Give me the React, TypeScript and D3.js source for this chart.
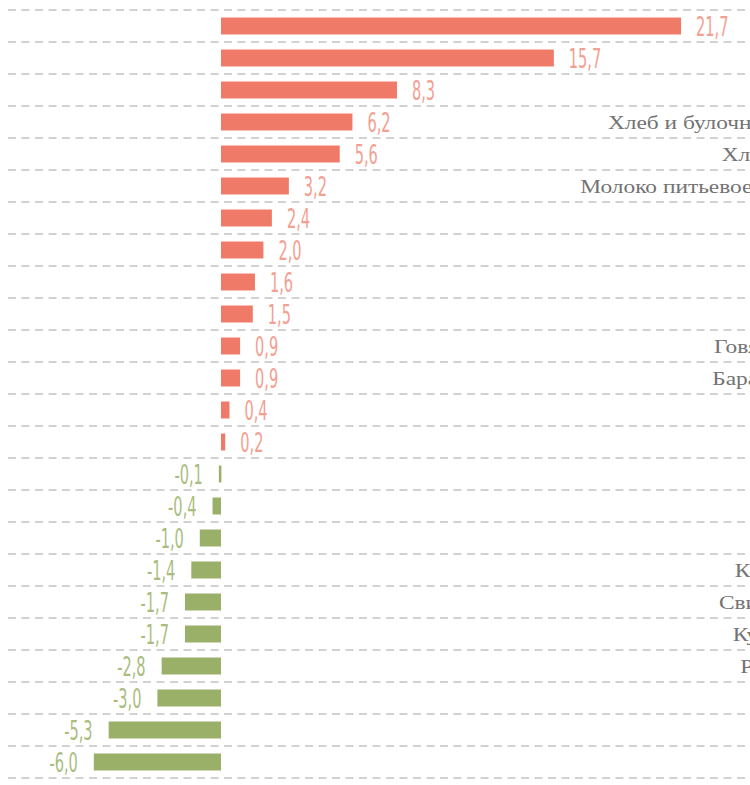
import React from "react";
import * as d3 from "d3";

const categories = [
  "Сахар-песок",
  "Лук репчатый",
  "Соль поваренная пищевая",
  "Хлеб и булочные изделия из пшеничной муки",
  "Хлеб ржаной и ржано-пшеничный",
  "Молоко питьевое цельное пастеризованное 2,5%",
  "Масло подсолнечное",
  "Мука пшеничная",
  "Макаронные изделия",
  "Рис шлифованный",
  "Говядина (кроме бескостного мяса)",
  "Баранина (кроме бескостного мяса)",
  "Чай черный байховый",
  "Масло сливочное",
  "Пшено",
  "Яйца куриные",
  "Картофель",
  "Колбаса вареная (высшего сорта)",
  "Свинина (кроме бескостного мяса)",
  "Куры (кроме куриных окорочков)",
  "Рыба мороженая (кроме форели)",
  "Морковь",
  "Яблоки",
  "Огурцы",
];
const values = [
  21.7, 15.7, 8.3, 6.2, 5.6, 3.2, 2.4, 2.0, 1.6, 1.5, 0.9, 0.9, 0.4, 0.2,
  -0.1, -0.4, -1.0, -1.4, -1.7, -1.7, -2.8, -3.0, -5.3, -6.0,
];

const W = 750;
const H = 785;
const POS = "#ef7a68";
const NEG = "#9aaf68";
const LABEL_END = 1066;

const fmt = (v: number) => v.toFixed(1).replace(".", ",");

export default function App() {
  const rows = categories.map((c, i) => ({ c, v: values[i], i }));

  const x = d3.scaleLinear().domain([-10, 25]).range([9, 751]);
  const y = d3
    .scaleBand<number>()
    .domain(rows.map((d) => d.i))
    .range([10, 778])
    .paddingInner(0.47)
    .paddingOuter(0.235);

  const step = y.step();
  const gridYs = d3.range(rows.length + 1).map((k) => 10 + k * step);

  return (
    <svg
      width={W}
      height={H}
      style={{ position: "absolute", left: 0, top: 0, background: "#fff" }}
    >
      {gridYs.map((gy, k) => (
        <line
          key={k}
          x1={8}
          x2={W}
          y1={gy}
          y2={gy}
          stroke="#c4c4c4"
          strokeWidth={1.6}
          strokeDasharray="8,5.5"
        />
      ))}
      {rows.map((d) => {
        const yy = y(d.i)!;
        const cy = yy + y.bandwidth() / 2;
        const x0 = x(Math.min(0, d.v));
        const x1 = x(Math.max(0, d.v));
        const pos = d.v >= 0;
        const lx = pos ? x1 + 15 : x0 - 16;
        return (
          <g key={d.i}>
            <rect
              x={x0}
              y={yy}
              width={Math.max(x1 - x0, 2.5)}
              height={y.bandwidth()}
              fill={pos ? POS : NEG}
            />
            <g transform={`translate(${lx},${cy + 9.5}) scale(0.6,1)`}>
              <text
                textAnchor={pos ? "start" : "end"}
                style={{
                  fontFamily: "'Liberation Sans Narrow', 'DejaVu Sans Condensed', sans-serif",
                  fontSize: 27,
                }}
                fill={pos ? "#f2a091" : "#a9bd7f"}
              >
                {fmt(d.v)}
              </text>
            </g>
            <g transform={`translate(${LABEL_END},${cy + 6.5}) scale(1.2,1)`}>
              <text
                textAnchor="end"
                style={{ fontFamily: "'Liberation Serif', serif", fontSize: 19.5 }}
                fill="#737373"
              >
                {d.c}
              </text>
            </g>
          </g>
        );
      })}
    </svg>
  );
}
